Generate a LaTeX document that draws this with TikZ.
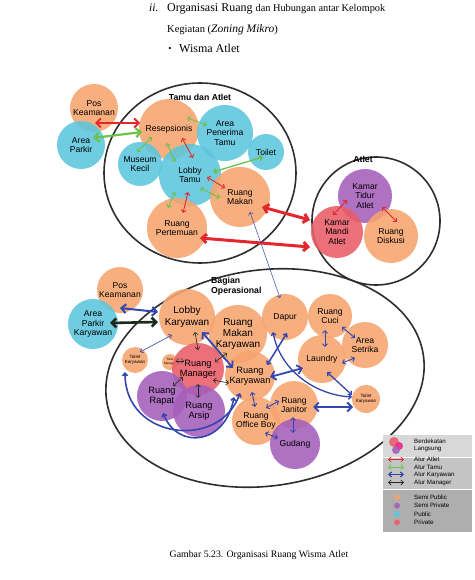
\documentclass[tikz,border=0pt]{standalone}
\usepackage{fontspec}
\setmainfont{Liberation Serif}
\setsansfont{Liberation Sans}
\usetikzlibrary{arrows.meta}

\definecolor{semipublik}{HTML}{F7A46E}
\definecolor{semiprivat}{HTML}{A55EBA}
\definecolor{publik}{HTML}{5CC6DD}
\definecolor{privat}{HTML}{EA5D68}
\definecolor{atletmerah}{HTML}{E4272C}
\definecolor{tamuhijau}{HTML}{6CC24A}
\definecolor{karyawanbiru}{HTML}{3446B0}
\definecolor{managerhitam}{HTML}{1D2A1B}
\definecolor{garis}{HTML}{2E2E2E}
\definecolor{abusatu}{HTML}{D8D8D8}
\definecolor{abudua}{HTML}{C4C4C4}
\definecolor{abutiga}{HTML}{AEAEAE}

\tikzset{
  ruang/.style={circle, inner sep=0pt, outer sep=0pt, align=center, fill opacity=0.88, text opacity=1, font=\sffamily\fontsize{8.6}{9.6}\selectfont},
  sp/.style={ruang, fill=semipublik},
  spv/.style={ruang, fill=semiprivat},
  pb/.style={ruang, fill=publik},
  pv/.style={ruang, fill=privat},
  besar/.style={font=\sffamily\fontsize{10}{11.4}\selectfont},
  sedang/.style={font=\sffamily\fontsize{9.2}{10.4}\selectfont},
  kecil/.style={font=\sffamily\fontsize{4.6}{5.4}\selectfont},
  mini/.style={font=\sffamily\fontsize{3}{3.6}\selectfont},
  zona/.style={draw=garis, line width=1.6pt},
  judulzona/.style={font=\sffamily\bfseries\fontsize{8.7}{10}\selectfont, align=left, inner sep=0pt},
  legenda/.style={anchor=west, inner sep=0pt, align=left, font=\sffamily\fontsize{6.2}{7.4}\selectfont},
  alur/.style={{Straight Barb[length=2.6pt,width=5pt]}-{Straight Barb[length=2.6pt,width=5pt]}, line width=0.9pt},
  alurtebal/.style={{Straight Barb[length=4.5pt,width=9pt]}-{Straight Barb[length=4.5pt,width=9pt]}, line width=2.2pt},
  atlet/.style={draw=atletmerah},
  tamu/.style={draw=tamuhijau},
  karyawan/.style={draw=karyawanbiru},
  manager/.style={draw=managerhitam}
}

\begin{document}
\begin{tikzpicture}[x=1pt, y=-1pt]
  \useasboundingbox (0,0) rectangle (474,580);
  \fill[white] (0,0) rectangle (474,580);

  \node[anchor=base west, inner sep=0pt] (nomor) at (149,12) {\fontsize{11.5}{13}\selectfont\textit{ii.}};
  \node[anchor=base west, inner sep=0pt] (judul) at (167,12) {\fontsize{12}{14}\selectfont Organisasi Ruang {\fontsize{10.3}{12}\selectfont dan Hubungan antar Kelompok}};
  \node[anchor=base west, inner sep=0pt] (judulb) at (167,32.7) {\fontsize{10.5}{12}\selectfont Kegiatan ({\fontsize{11.5}{13}\selectfont\textit{Zoning Mikro}})};
  \node[inner sep=0pt] (poin) at (170,49.5) {\fontsize{9}{10}\selectfont\textbullet};
  \node[anchor=base west, inner sep=0pt] (judulc) at (179,52.7) {\fontsize{12}{14}\selectfont Wisma Atlet};

  \draw[zona] (200,173) ellipse [x radius=96, y radius=90];
  \draw[zona] (376,221) circle [radius=64];
  \draw[zona, rotate around={8:(265,378)}] (265,378) ellipse [x radius=160, y radius=108];

  \node[judulzona] (ztamu) at (200,97) {Tamu dan Atlet};
  \node[judulzona] (zatlet) at (363,159) {Atlet};
  \node[judulzona, anchor=north west] (zops) at (211,277) {Bagian\\Operasional};

  \node[sp, minimum size=48pt] (pos1) at (94,108) {Pos\\Keamanan};
  \node[pb, minimum size=48pt] (park1) at (81,145) {Area\\Parkir};
  \node[sp, minimum size=60pt] (resep) at (169,129) {Resepsionis};
  \node[pb, minimum size=56pt] (apt) at (225,133) {Area\\Penerima\\Tamu};
  \node[pb, minimum size=36pt] (toilet) at (266,152) {Toilet};
  \node[pb, minimum size=44pt] (museum) at (140,164) {Museum\\Kecil};
  \node[pb, minimum size=62pt] (lobby) at (190,175) {Lobby\\Tamu};
  \node[sp, minimum size=60pt] (makan) at (240,197) {Ruang\\Makan};
  \node[sp, minimum size=60pt] (pert) at (177,228) {Ruang\\Pertemuan};

  \node[spv, minimum size=54pt] (tidur) at (365,196) {Kamar\\Tidur\\Atlet};
  \node[pv, minimum size=52pt] (mandi) at (337,232) {Kamar\\Mandi\\Atlet};
  \node[sp, minimum size=54pt] (diskusi) at (391,236) {Ruang\\Diskusi};

  \node[sp, minimum size=46pt] (pos2) at (120,290) {Pos\\Keamanan};
  \node[pb, minimum size=50pt] (park2) at (93,324) {Area\\Parkir\\Karyawan};
  \node[sp, besar, minimum size=56pt] (lobk) at (187,317) {Lobby\\Karyawan};
  \node[sp, besar, minimum size=58pt] (makk) at (238,334) {Ruang\\Makan\\Karyawan};
  \node[sp, kecil, minimum size=26pt] (toik1) at (135,360) {Toilet\\Karyawan};
  \node[sp, mini, minimum size=16pt] (toim) at (170,362) {Toilet\\Manager};
  \node[pv, sedang, minimum size=52pt] (mgr) at (198,369) {Ruang\\Manager};
  \node[spv, sedang, minimum size=50pt] (rapat) at (162,396) {Ruang\\Rapat};
  \node[spv, sedang, minimum size=52pt] (arsip) at (199,411) {Ruang\\Arsip};
  \node[sp, sedang, minimum size=50pt] (rk) at (250,376) {Ruang\\Karyawan};
  \node[sp, minimum size=46pt] (dapur) at (285,317) {Dapur};
  \node[sp, minimum size=44pt] (cuci) at (330,316) {Ruang\\Cuci};
  \node[sp, minimum size=46pt] (setrika) at (365,345) {Area\\Setrika};
  \node[sp, minimum size=48pt] (laundry) at (322,359) {Laundry};
  \node[sp, kecil, minimum size=28pt] (toik2) at (366,399) {Toilet\\Karyawan};
  \node[sp, minimum size=48pt] (janitor) at (294,405) {Ruang\\Janitor};
  \node[sp, minimum size=48pt] (ob) at (256,421) {Ruang\\Office Boy};
  \node[spv, minimum size=50pt] (gudang) at (295,444) {Gudang};

  \draw[alurtebal, atlet, line width=1.8pt] ([shift={(1,15)}]pos1.center) -- ([shift={(-29,-6)}]resep.center);
  \draw[alurtebal, tamu] ([shift={(12,-7)}]park1.center) -- ([shift={(-27,3)}]resep.center);
  \draw[alur, tamu] ([shift={(18,-11)}]resep.center) -- ([shift={(-18,-8)}]apt.center);
  \draw[alur, tamu] ([shift={(-17,8)}]resep.center) -- ([shift={(-3,-12)}]museum.center);
  \draw[alur, tamu] ([shift={(-2,14)}]resep.center) -- ([shift={(-15,-13)}]lobby.center);
  \draw[alur, atlet] ([shift={(13,9)}]resep.center) -- ([shift={(3,-17)}]lobby.center);
  \draw[alur, tamu, line width=1.3pt] ([shift={(23,-3)}]lobby.center) -- ([shift={(-3,5)}]toilet.center);
  \draw[alur, atlet] ([shift={(17,2)}]lobby.center) -- ([shift={(-15,-9)}]makan.center);
  \draw[alur, tamu] ([shift={(10,13)}]lobby.center) -- ([shift={(-20,1)}]makan.center);
  \draw[alur, tamu] ([shift={(-15,17)}]lobby.center) -- ([shift={(-9,-20)}]pert.center);
  \draw[alur, atlet] ([shift={(-2,17)}]lobby.center) -- ([shift={(6,-15)}]pert.center);
  \draw[alurtebal, atlet, line width=3pt] ([shift={(22,10)}]makan.center) -- ([shift={(-27,-12)}]mandi.center);
  \draw[alurtebal, atlet, line width=3pt] ([shift={(23,10)}]pert.center) -- ([shift={(-27,15)}]mandi.center);
  \draw[alur, atlet] ([shift={(-4,-17)}]mandi.center) -- ([shift={(-18,4)}]tidur.center);
  \draw[alur, atlet] ([shift={(17,11)}]tidur.center) -- ([shift={(6,-14)}]diskusi.center);
  \draw[alur, karyawan, line width=0.5pt] ([shift={(10,15)}]makan.center) -- ([shift={(-5,-19)}]dapur.center);

  \draw[alurtebal, karyawan, line width=2pt] ([shift={(0,18)}]pos2.center) -- ([shift={(-29,-5)}]lobk.center);
  \draw[alurtebal, manager, line width=2.6pt] ([shift={(17,-1)}]park2.center) -- ([shift={(-29,5)}]lobk.center);
  \draw[alur, karyawan, line width=0.6pt] ([shift={(-15,18)}]lobk.center) -- ([shift={(5,-8)}]toik1.center);
  \draw[alur, manager, line width=0.6pt] ([shift={(8,15)}]lobk.center) -- ([shift={(0,-19)}]mgr.center);
  \draw[alurtebal, karyawan, line width=1.8pt] ([shift={(15,15)}]lobk.center) -- ([shift={(-17,-8)}]rk.center);
  \draw[alur, manager, line width=0.6pt] ([shift={(17,-7)}]mgr.center) -- ([shift={(-11,19)}]makk.center);
  \draw[alur, manager, line width=0.4pt] ([shift={(6,-1)}]toim.center) -- ([shift={(-14,-8)}]mgr.center);
  \draw[alur, manager, line width=0.6pt] ([shift={(-15,8)}]mgr.center) -- ([shift={(11,-10)}]rapat.center);
  \draw[alur, manager, line width=0.6pt] ([shift={(0,15)}]mgr.center) -- ([shift={(-1,-13)}]arsip.center);
  \draw[alur, manager, line width=0.6pt] ([shift={(15,11)}]mgr.center) -- ([shift={(-21,7)}]rk.center);
  \draw[alur, karyawan, line width=1.6pt] ([shift={(-10,12)}]toik1.center) .. controls ([shift={(-10,80)}]toik1.center) and ([shift={(-30,74)}]rk.center) .. ([shift={(-10,17)}]rk.center);
  \draw[alur, karyawan, line width=1.6pt] ([shift={(1,17)}]rapat.center) .. controls ([shift={(16,54)}]rapat.center) and ([shift={(-25,69)}]rk.center) .. ([shift={(-16,21)}]rk.center);
  \draw[alur, karyawan, line width=1.5pt] ([shift={(2,16)}]dapur.center) -- ([shift={(17,-11)}]rk.center);
  \draw[alur, karyawan, line width=1.3pt] ([shift={(-12,15)}]dapur.center) .. controls ([shift={(-5,53)}]dapur.center) and ([shift={(-51,-4)}]toik2.center) .. ([shift={(-14,-2)}]toik2.center);
  \draw[alurtebal, karyawan, line width=1.8pt] ([shift={(20,1)}]rk.center) -- ([shift={(-19,9)}]laundry.center);
  \draw[alur, karyawan] ([shift={(2,16)}]rk.center) -- ([shift={(-1,-14)}]ob.center);
  \draw[alur, karyawan] ([shift={(10,-13)}]ob.center) -- ([shift={(-15,-4)}]janitor.center);
  \draw[alur, karyawan] ([shift={(9,12)}]ob.center) -- ([shift={(-17,-6)}]gudang.center);
  \draw[alur, karyawan] ([shift={(-1,12)}]janitor.center) -- ([shift={(-2,-11)}]gudang.center);
  \draw[alurtebal, karyawan, line width=1.8pt] ([shift={(19,2)}]janitor.center) -- ([shift={(-13,8)}]toik2.center);
  \draw[alur, karyawan, line width=1.3pt] ([shift={(5,13)}]laundry.center) -- ([shift={(-14,-4)}]toik2.center);
  \draw[alur, karyawan] ([shift={(-5,14)}]cuci.center) -- ([shift={(3,-12)}]laundry.center);
  \draw[alur, karyawan] ([shift={(12,11)}]cuci.center) -- ([shift={(-10,-7)}]setrika.center);
  \draw[alur, karyawan] ([shift={(20,4)}]laundry.center) -- ([shift={(-10,13)}]setrika.center);

  % legenda
  \fill[abusatu] (383,435) rectangle (472,456.5);
  \fill[abudua] (383,457.5) rectangle (472,488.5);
  \fill[abutiga] (383,489.5) rectangle (472,532);
  \node[pv, minimum size=10pt] (ikona) at (394,442) {};
  \node[ruang, fill=magenta!70!privat, minimum size=8pt] (ikonb) at (399,446) {};
  \node[spv, minimum size=8pt] (ikonc) at (396,450) {};
  \node[legenda] (kdekat) at (414,445.5) {Berdekatan\\Langsung};
  \coordinate (la) at (388,459.5);  \coordinate (lb) at (404,459.5);
  \coordinate (ta) at (388,467);    \coordinate (tb) at (404,467);
  \coordinate (ka) at (388,474.5);  \coordinate (kb) at (404,474.5);
  \coordinate (ma) at (388,482.5);  \coordinate (mb) at (404,482.5);
  \draw[alur, atlet, line width=0.8pt] (la) -- (lb);
  \draw[alur, tamu, line width=0.8pt] (ta) -- (tb);
  \draw[alur, karyawan, line width=1.3pt] (ka) -- (kb);
  \draw[alur, manager, line width=0.8pt] (ma) -- (mb);
  \node[legenda] (katlet) at (414,459.5) {Alur Atlet};
  \node[legenda] (ktamu) at (414,467) {Alur Tamu};
  \node[legenda] (kkary) at (414,474.5) {Alur Karyawan};
  \node[legenda] (kman) at (414,482.5) {Alur Manager};
  \node[sp, minimum size=6pt] (dsp) at (397,497.3) {};
  \node[spv, minimum size=6pt] (dspv) at (397,505.7) {};
  \node[pb, minimum size=6pt] (dpb) at (397,514) {};
  \node[pv, minimum size=6pt] (dpv) at (397,522.3) {};
  \node[legenda] (ksp) at (414,497.3) {Semi Public};
  \node[legenda] (kspv) at (414,505.7) {Semi Private};
  \node[legenda] (kpb) at (414,514) {Public};
  \node[legenda] (kpv) at (414,522.3) {Private};

  \node[inner sep=0pt] (caption) at (259,555) {\fontsize{9.8}{12}\selectfont Gambar 5.23. Organisasi Ruang Wisma Atlet};
\end{tikzpicture}
\end{document}
